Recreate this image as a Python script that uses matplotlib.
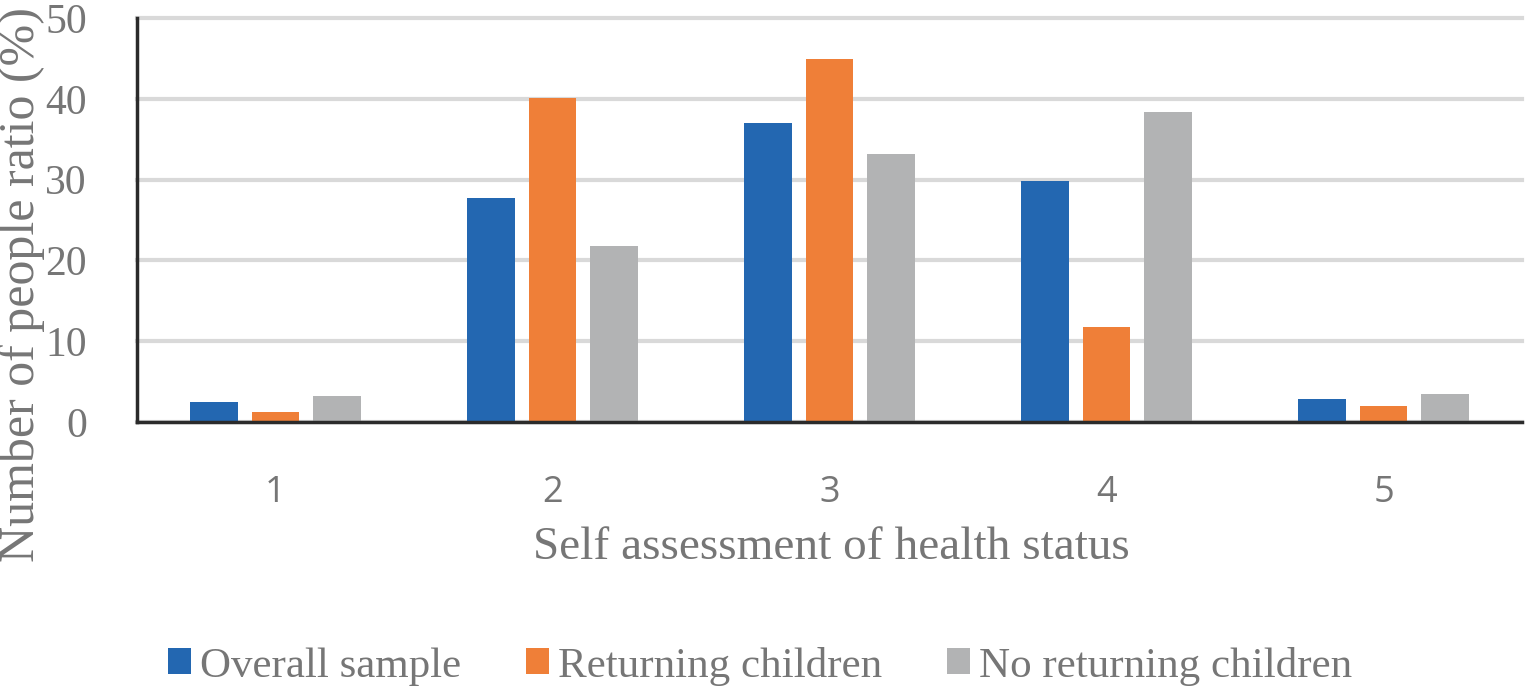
import numpy as np
import matplotlib
matplotlib.use("Agg")
import matplotlib.pyplot as plt

# data
categories = ["1", "2", "3", "4", "5"]
overall = [2.5, 27.7, 37.0, 29.8, 2.9]
returning = [1.2, 40.1, 44.9, 11.7, 2.0]
no_returning = [3.2, 21.8, 33.2, 38.4, 3.5]
series_names = ["Overall sample", "Returning children", "No returning children"]
yticks = [0, 10, 20, 30, 40, 50]

colors = ["#2367B1", "#EF7F38", "#B2B3B4"]
text_gray = "#767676"
serif = ["Liberation Serif", "DejaVu Serif"]

W, H = 1525, 692
fig = plt.figure(figsize=(W / 100, H / 100), dpi=100)
ax = fig.add_axes([137 / W, 1 - 422 / H, (1522 - 137) / W, (422 - 18) / H])

x = np.arange(1, len(categories) + 1)
pitch = 0.222
width = 0.173
for i, (vals, c, name) in enumerate(zip([overall, returning, no_returning], colors, series_names)):
    ax.bar(x + (i - 1) * pitch, vals, width, color=c, label=name, zorder=3)

ax.set_xlim(0.5, 5.5)
ax.set_ylim(0, 50)
ax.set_yticks(yticks)
ax.set_xticks(x)
ax.set_xticklabels(categories)

ax.yaxis.grid(True, color="#D9D9D9", linewidth=3, zorder=0)
for gl in ax.yaxis.get_gridlines():
    gl.set_clip_on(False)
ax.set_axisbelow(True)

for s in ["top", "right"]:
    ax.spines[s].set_visible(False)
for s in ["left", "bottom"]:
    ax.spines[s].set_color("#2b2b2b")
    ax.spines[s].set_linewidth(2.5)
    ax.spines[s].set_zorder(4)

ax.tick_params(axis="both", length=0)
ax.tick_params(axis="y", pad=36, labelsize=30, labelcolor=text_gray)
ax.tick_params(axis="x", pad=38, labelsize=26, labelcolor=text_gray)
for lab in ax.get_yticklabels():
    lab.set_family(serif)
for lab in ax.get_xticklabels():
    lab.set_family(["Open Sans", "DejaVu Sans"])

fig.text(831 / W, 1 - 548 / H, "Self assessment of health status",
         ha="center", va="center", fontsize=34, color=text_gray, family=serif)
fig.text(22 / W, 1 - 284 / H, "Number of people ratio (%)", rotation=90,
         ha="center", va="center", fontsize=36, color=text_gray, family=serif)

leg = fig.legend(loc="center", bbox_to_anchor=(760 / W, 1 - 666 / H), ncol=3,
                 frameon=False, prop={"family": serif, "size": 31},
                 handlelength=0.55, handleheight=0.55, handletextpad=0.2,
                 columnspacing=1.5)
for t in leg.get_texts():
    t.set_color(text_gray)

fig.savefig("out.png", dpi=100)
